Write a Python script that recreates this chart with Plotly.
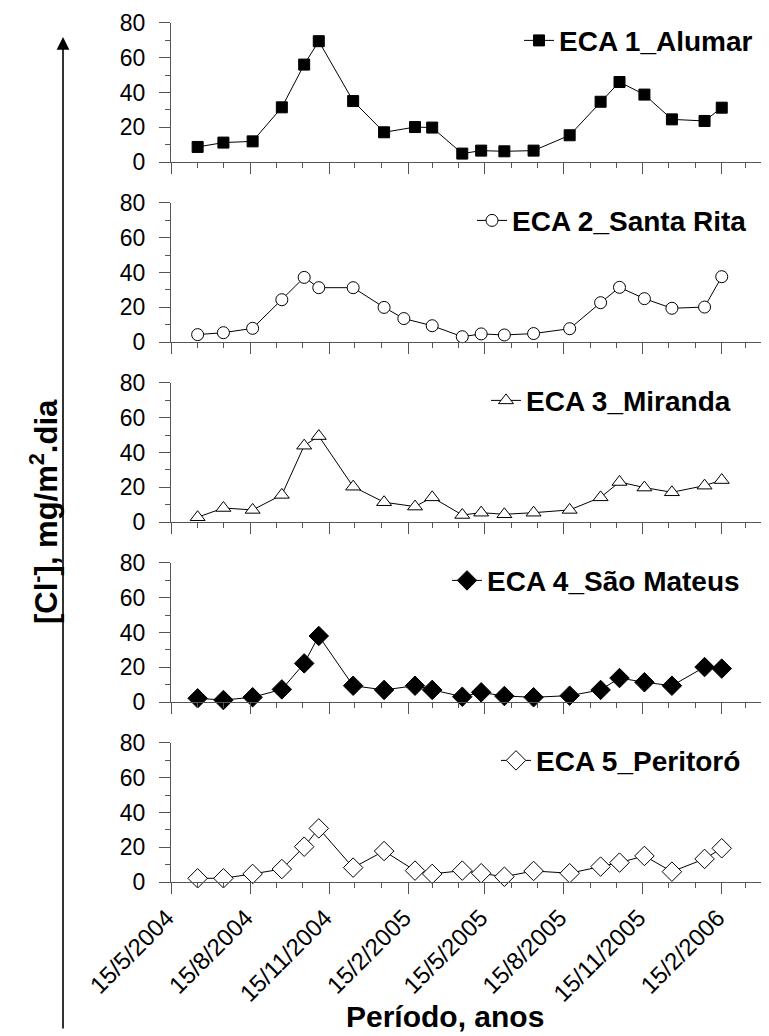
import plotly.graph_objects as go

# ---------------- data ----------------
dates = ["2004-06-15", "2004-07-15", "2004-08-18", "2004-09-21", "2004-10-17",
         "2004-11-03", "2004-12-13", "2005-01-18", "2005-02-23", "2005-03-15",
         "2005-04-19", "2005-05-11", "2005-06-07", "2005-07-11", "2005-08-22",
         "2005-09-27", "2005-10-19", "2005-11-17", "2005-12-19", "2006-01-26",
         "2006-02-15"]
dates_eca2 = ["2004-06-15", "2004-07-15", "2004-08-18", "2004-09-21", "2004-10-17",
              "2004-11-03", "2004-12-13", "2005-01-18", "2005-02-10", "2005-03-15",
              "2005-04-19", "2005-05-11", "2005-06-07", "2005-07-11", "2005-08-22",
              "2005-09-27", "2005-10-19", "2005-11-17", "2005-12-19", "2006-01-26",
              "2006-02-15"]

eca1 = [8.8, 11.3, 12.0, 31.5, 56.0, 69.4, 35.1, 17.2, 20.2, 19.9, 5.0,
        6.7, 6.3, 6.7, 15.5, 34.7, 46.0, 38.8, 24.6, 23.7, 31.3]
eca2 = [4.4, 5.5, 8.0, 24.4, 37.2, 31.3, 31.3, 20.0, 13.6, 9.5, 3.2,
        4.8, 4.2, 5.0, 7.8, 22.7, 31.5, 25.0, 19.5, 20.2, 37.6]
eca3 = [2.9, 8.2, 7.1, 15.7, 43.9, 49.4, 20.4, 11.5, 9.0, 14.3, 4.2,
        5.5, 4.6, 5.5, 7.1, 14.3, 23.1, 19.9, 17.2, 21.0, 24.2]
eca4 = [2.3, 1.3, 2.9, 7.4, 22.3, 38.0, 9.5, 7.1, 9.5, 7.1, 3.2,
        5.7, 3.6, 2.9, 3.8, 7.1, 13.9, 11.5, 9.5, 20.2, 19.3]
eca5 = [2.3, 2.3, 4.8, 7.6, 20.4, 30.9, 8.4, 17.9, 6.7, 4.8, 6.7,
        5.2, 3.2, 6.5, 5.2, 9.0, 11.3, 15.1, 6.1, 13.4, 19.5]

names = ["ECA 1_Alumar", "ECA 2_Santa Rita", "ECA 3_Miranda",
         "ECA 4_São Mateus", "ECA 5_Peritoró"]

x_tickvals = ["2004-05-15", "2004-08-15", "2004-11-15", "2005-02-15",
              "2005-05-15", "2005-08-15", "2005-11-15", "2006-02-15"]
x_ticktext = ["15/5/2004", "15/8/2004", "15/11/2004", "15/2/2005",
              "15/5/2005", "15/8/2005", "15/11/2005", "15/2/2006"]
y_tickvals = [0, 20, 40, 60, 80]
y_minorvals = [10, 30, 50, 70]

x_title = "Período, anos"
y_title = "[Cl<sup>-</sup>], mg/m<sup>2</sup>.dia"

# ---------------- styling ----------------
# The page body has an 8px margin; the figure is sized so it fills the window.
OFF = 8
FW, FH = 769 - OFF, 1036 - OFF


def fx(X):
    return (X - OFF) / FW


def fy(Y):
    return 1 - (Y - OFF) / FH


FONT = "Liberation Sans, Arial, sans-serif"
LINEC = "#555555"
TICKC = "#555555"
x_range = ["2004-05-15", "2006-04-11"]

styles = [
    dict(symbol="square", size=11, color="black"),
    dict(symbol="circle", size=12, color="white"),
    dict(symbol="triangle-up", size=13, color="white"),
    dict(symbol="diamond", size=15, color="black"),
    dict(symbol="diamond", size=15, color="white"),
]
legend_text_start = [561, 514, 528, 489, 538]

series_x = [dates, dates_eca2, dates, dates, dates]
series_y = [eca1, eca2, eca3, eca4, eca5]

fig = go.Figure()
layout = {}

for k in range(5):
    i = k + 1
    top_px = 22.7 + 180 * k
    bot_px = 162.3 + 180 * k
    ydom = [fy(bot_px), fy(top_px)]
    xa = "x" if i == 1 else f"x{i}"
    ya = "y" if i == 1 else f"y{i}"
    xkey = "xaxis" if i == 1 else f"xaxis{i}"
    ykey = "yaxis" if i == 1 else f"yaxis{i}"
    leg = "legend" if i == 1 else f"legend{i}"
    st = styles[k]

    fig.add_trace(go.Scatter(
        x=series_x[k], y=series_y[k], name=names[k], mode="lines+markers",
        xaxis=xa, yaxis=ya, legend=leg, cliponaxis=False,
        line=dict(color="black", width=1),
        marker=dict(symbol=st["symbol"], size=st["size"], color=st["color"],
                    line=dict(color="black", width=1)),
    ))

    bottom = (k == 4)
    layout[xkey] = dict(
        type="date", domain=[fx(171), 1], anchor=ya, range=x_range,
        automargin=False,
        tickmode="array", tickvals=x_tickvals, ticktext=x_ticktext,
        showticklabels=bottom, tickangle=-45,
        tickfont=dict(family=FONT, size=24, color="black"),
        ticklabelstandoff=0, ticklabelshift=-4,
        ticks="outside", ticklen=11, tickwidth=1.2, tickcolor=TICKC,
        minor=dict(tick0="2004-05-15", dtick="M1", ticks="outside",
                   ticklen=5, tickwidth=1, tickcolor=TICKC),
        showline=True, linecolor=LINEC, linewidth=1.2,
        showgrid=False, zeroline=False, fixedrange=True,
    )
    layout[f"xaxis{i + 5}"] = dict(
        type="date", overlaying=xa, anchor=ya, side="top", range=x_range,
        automargin=False,
        tickmode="array", tickvals=x_tickvals, showticklabels=False,
        ticks="inside", ticklen=11, tickwidth=1.2, tickcolor=TICKC,
        minor=dict(tick0="2004-05-15", dtick="M1", ticks="inside",
                   ticklen=5, tickwidth=1, tickcolor=TICKC),
        showline=True, linecolor=LINEC, linewidth=1.2,
        showgrid=False, zeroline=False, fixedrange=True,
    )
    layout[ykey] = dict(
        domain=ydom, anchor=xa, range=[0, 80], automargin=False,
        tickmode="array", tickvals=y_tickvals,
        tickfont=dict(family=FONT, size=23, color="black"),
        ticklabelstandoff=9,
        ticks="outside", ticklen=11, tickwidth=1.2, tickcolor=TICKC,
        minor=dict(tickvals=y_minorvals, ticks="outside", ticklen=5,
                   tickwidth=1, tickcolor=TICKC),
        showline=True, linecolor=LINEC, linewidth=1.2,
        showgrid=False, zeroline=False, fixedrange=True,
    )
    layout[f"yaxis{i + 5}"] = dict(
        overlaying=ya, anchor=xa, side="right", range=[0, 80],
        automargin=False,
        tickmode="array", tickvals=y_tickvals, showticklabels=False,
        ticks="inside", ticklen=9, tickwidth=1.2, tickcolor=TICKC,
        minor=dict(tickvals=y_minorvals, ticks="inside", ticklen=5,
                   tickwidth=1, tickcolor=TICKC),
        showline=False, showgrid=False, zeroline=False, fixedrange=True,
    )
    layout[leg] = dict(
        x=fx(legend_text_start[k] - 42), xanchor="left",
        y=fy(top_px - 7), yanchor="top", xref="paper", yref="paper",
        bgcolor="rgba(0,0,0,0)", borderwidth=0,
        font=dict(family=FONT, size=28, color="black", weight="bold"),
    )

fig.update_layout(**layout)

fig.update_layout(
    width=FW, height=FH,
    margin=dict(l=0, r=0, t=0, b=0, autoexpand=False),
    paper_bgcolor="white", plot_bgcolor="white",
    showlegend=True,
    annotations=[
        dict(text=x_title, x=fx(445), y=fy(1016), xref="paper", yref="paper",
             xanchor="center", yanchor="middle", showarrow=False,
             font=dict(family=FONT, size=30, color="black", weight="bold")),
        dict(text=y_title, x=fx(44), y=fy(512), xref="paper", yref="paper",
             xanchor="center", yanchor="middle", showarrow=False, textangle=-90,
             font=dict(family=FONT, size=31, color="black", weight="bold")),
        dict(text="", x=fx(63), y=fy(37), xref="paper", yref="paper",
             ax=0, ay=993, axref="pixel", ayref="pixel", showarrow=True,
             arrowhead=2, arrowsize=1.6, arrowwidth=1.6, arrowcolor="black"),
    ],
)

fig.write_html("out.html")
